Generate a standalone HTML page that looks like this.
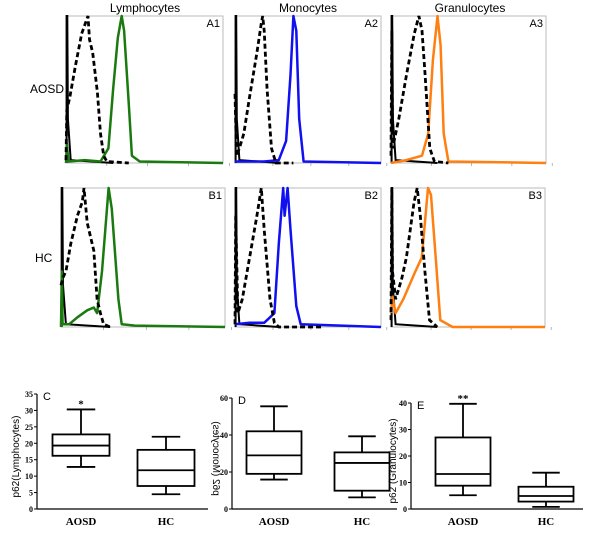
<!DOCTYPE html>
<html><head><meta charset="utf-8"><style>
body{margin:0;background:#fff;width:600px;height:544px;overflow:hidden}
svg{display:block}
text{font-family:"Liberation Sans",sans-serif}
.b{font-family:"Liberation Serif",serif;font-weight:bold}
</style></head><body>
<svg id="s" width="600" height="544"></svg>
<script>
// ---------- histogram data (x,y normalized to panel) ----------
const panelNames=['A1','A2','A3','B1','B2','B3'];
const colTitles=['Lymphocytes','Monocytes','Granulocytes'];
const rowTitles=['AOSD','HC'];
const seriesColors=['#1a7a10','#1010f0','#ff7f10','#1a7a10','#1010f0','#ff7f10'];
const isoSpike=[[0.004,0],[0.004,1],[0.008,1],[0.012,0.3],[0.03,0.02],[0.3,0]];
const dashedA1=[[0,0.02],[0.005,0.36],[0.025,0.45],[0.06,0.66],[0.1,0.88],[0.13,0.97],[0.14,1],[0.15,0.84],[0.17,0.75],[0.2,0.48],[0.22,0.2],[0.24,0.05],[0.26,0.01],[0.4,0]];
const colorA1=[[0,0],[0.005,0.13],[0.015,0.01],[0.12,0.02],[0.22,0.01],[0.27,0.1],[0.3,0.5],[0.33,0.85],[0.355,1],[0.37,0.9],[0.4,0.4],[0.42,0.05],[0.47,0.01],[1,0]];
const dashedA2=[[0,0.47],[0.01,0.05],[0.03,0.1],[0.06,0.2],[0.1,0.45],[0.15,0.75],[0.18,0.95],[0.19,1],[0.2,0.9],[0.22,0.5],[0.25,0.1],[0.28,0],[0.4,0]];
const colorA2=[[0,0.01],[0.2,0.01],[0.3,0.02],[0.35,0.15],[0.38,0.6],[0.4,1],[0.42,0.9],[0.44,0.3],[0.47,0.01],[1,0]];
const dashedA3=[[0,0.05],[0.005,0.9],[0.01,0.1],[0.05,0.3],[0.1,0.6],[0.15,0.88],[0.18,1],[0.2,0.9],[0.22,0.6],[0.25,0.1],[0.28,0.01],[0.37,0]];
const colorA3=[[0,0],[0.1,0.02],[0.2,0.05],[0.24,0.2],[0.27,0.7],[0.3,1],[0.32,0.8],[0.34,0.2],[0.37,0.01],[1,0]];
const dashedB1=[[0,0.3],[0.01,0.35],[0.03,0.4],[0.06,0.6],[0.1,0.8],[0.13,0.9],[0.14,1],[0.16,0.75],[0.2,0.55],[0.22,0.2],[0.24,0.1],[0.26,0.02],[0.3,0]];
const colorB1=[[0,0],[0.005,0.4],[0.01,0.02],[0.05,0.02],[0.1,0.07],[0.16,0.12],[0.2,0.14],[0.22,0.1],[0.25,0.4],[0.27,0.7],[0.29,1],[0.31,0.85],[0.35,0.2],[0.37,0.02],[0.45,0.01],[1,0]];
const dashedB2=[[0,0.02],[0.005,0.8],[0.02,0.1],[0.05,0.2],[0.1,0.5],[0.15,0.8],[0.18,1],[0.2,0.7],[0.24,0.2],[0.27,0.03],[0.3,0],[0.6,0]];
const colorB2=[[0,0.02],[0.1,0.03],[0.2,0.03],[0.27,0.1],[0.3,0.6],[0.33,1],[0.34,0.8],[0.36,1],[0.38,0.7],[0.42,0.15],[0.45,0.02],[1,0]];
const dashedB3=[[0,0.05],[0.005,1],[0.01,0.4],[0.03,0.2],[0.07,0.35],[0.1,0.5],[0.15,0.9],[0.17,1],[0.19,0.8],[0.22,0.4],[0.25,0.05],[0.3,0]];
const colorB3=[[0,0.1],[0.01,0.22],[0.03,0.1],[0.08,0.2],[0.15,0.38],[0.2,0.5],[0.24,1],[0.26,0.95],[0.29,0.5],[0.32,0.05],[0.4,0],[1,0]];
const dashedSeries=[dashedA1,dashedA2,dashedA3,dashedB1,dashedB2,dashedB3];
const colorSeries=[colorA1,colorA2,colorA3,colorB1,colorB2,colorB3];
// ---------- box plot data ----------
const boxGroups=['AOSD','HC'];
const lymphAOSD=[12.8,16.2,19.3,22.7,30.3];
const lymphHC=[4.5,7,11.8,18,22];
const monoAOSD=[15.9,19,29,42,55.5];
const monoHC=[6.3,9.9,24.9,30.6,39.3];
const granAOSD=[5.2,8.8,13.2,27,39.7];
const granHC=[0.8,2.8,4.9,8.4,13.7];
const lymphTicks=[0,5,10,15,20,25,30,35];
const monoTicks=[0,20,40,60];
const granTicks=[0,10,20,30,40];

const S=document.getElementById('s'),NS='http://www.w3.org/2000/svg';
function mk(tag,a,parent){const e=document.createElementNS(NS,tag);for(const k in a)e.setAttribute(k,a[k]);(parent||S).appendChild(e);return e;}

const frames=[[66,16,157,147],[235,16,146,147],[391,16,155,147],[61,188,164,139],[235,188,146,139],[391,188,154,139]];
panelNames.forEach((nm,i)=>{
  const [x,y,w,h]=frames[i];
  const g=mk('g',{});
  
  
  const r=mk('rect',{x,y,width:w,height:h,fill:'none',stroke:'#bbb','stroke-width':1},g);
  
  for(let k=1;k<8;k++){mk('line',{x1:x,x2:x+2,y1:y+h*k/8,y2:y+h*k/8,stroke:'#888','stroke-width':0.6},g);}
  for(let k=1;k<5;k++){mk('line',{x1:x+w*k*0.26,x2:x+w*k*0.26,y1:y+h,y2:y+h+3,stroke:'#888','stroke-width':0.6},g);}
  const sx=v=>x+v*w, sy=v=>y+h-v*h;
  const pth=pts=>pts.map((p,j)=>(j?'L':'M')+sx(p[0]).toFixed(1)+','+sy(p[1]).toFixed(1)).join('');
  const iso=mk('path',{d:pth(isoSpike),fill:'none',stroke:'#000','stroke-width':2},g);
  
  const c=mk('path',{d:pth(colorSeries[i]),fill:'none',stroke:seriesColors[i],'stroke-width':2.5,'stroke-linejoin':'round'},g);
  
  const d=mk('path',{d:pth(dashedSeries[i]),fill:'none',stroke:'#000','stroke-width':2.8,'stroke-dasharray':'5,3'},g);
  
  const t=mk('text',{x:x+w-3,y:y+11,'text-anchor':'end','font-size':11},g);t.textContent=nm;
  
});
colTitles.forEach((t,i)=>{const e=mk('text',{x:[145,308,470][i],y:12,'text-anchor':'middle','font-size':12});e.textContent=t;
  });
rowTitles.forEach((t,i)=>{const e=mk('text',{x:[30,35][i],y:[93,262][i],'font-size':12});e.textContent=t;
  });

function boxPlot(cfg){
  const {ax,y0,yTop,vmax,xEnd,centers,bw,data,ticks,label,title,tx,mirror,stars}=cfg;
  const g=mk('g',{});
  
  
  const sy=v=>y0-(v/vmax)*(y0-yTop);
  mk('line',{x1:ax,x2:ax,y1:y0,y2:sy(ticks[ticks.length-1]),stroke:'#000','stroke-width':1.2},g);
  mk('line',{x1:ax,x2:xEnd,y1:y0,y2:y0,stroke:'#000','stroke-width':1.2},g);
  ticks.forEach(t=>{mk('line',{x1:ax-3,x2:ax,y1:sy(t),y2:sy(t),stroke:'#000','stroke-width':1},g);
    const e=mk('text',{x:ax-4,y:sy(t)+3,'text-anchor':'end','font-size':8,class:'b'},g);e.textContent=t;
    });
  data.forEach((d,i)=>{const cx=centers[i];
    const b=mk('g',{},g);
    mk('line',{x1:cx,x2:cx,y1:sy(d[0]),y2:sy(d[1]),stroke:'#000','stroke-width':1.8},b);
    mk('line',{x1:cx,x2:cx,y1:sy(d[3]),y2:sy(d[4]),stroke:'#000','stroke-width':1.8},b);
    mk('line',{x1:cx-bw/4,x2:cx+bw/4,y1:sy(d[0]),y2:sy(d[0]),stroke:'#000','stroke-width':1.8},b);
    mk('line',{x1:cx-bw/4,x2:cx+bw/4,y1:sy(d[4]),y2:sy(d[4]),stroke:'#000','stroke-width':1.8},b);
    mk('rect',{x:cx-bw/2,y:sy(d[3]),width:bw,height:sy(d[1])-sy(d[3]),fill:'none',stroke:'#000','stroke-width':1.8},b);
    mk('line',{x1:cx-bw/2,x2:cx+bw/2,y1:sy(d[2]),y2:sy(d[2]),stroke:'#000','stroke-width':1.8},b);
    const e=mk('text',{x:cx,y:y0+16,'text-anchor':'middle','font-size':11,class:'b'},g);e.textContent=boxGroups[i];
    
    if(i==0&&stars){const s=mk('text',{x:cx,y:sy(d[4])-2,'text-anchor':'middle','font-size':11,class:'b'},g);s.textContent=stars;
      }
  });
  const L=mk('text',{x:ax+6,y:yTop+6,'font-size':11},g);L.textContent=label;
  
  const cy=(y0+yTop)/2+5;
  const T=mk('text',{x:0,y:0,'text-anchor':'middle','font-size':10,transform:`translate(${tx},${cy}) rotate(-90)`+(mirror?' scale(1,-1)':'')},g);
  T.textContent=title;
}
boxPlot({ax:37,y0:509,yTop:394,vmax:35,xEnd:208,centers:[81,166],bw:57,data:[lymphAOSD,lymphHC],ticks:lymphTicks,label:'C',title:'p62(Lymphocytes)',tx:19,stars:'*'});
boxPlot({ax:232,y0:509,yTop:398,vmax:60,xEnd:397,centers:[274,362],bw:55,data:[monoAOSD,monoHC],ticks:monoTicks,label:'D',title:'p62 (Monocytes)',tx:213,mirror:true});
boxPlot({ax:411,y0:509,yTop:403,vmax:40,xEnd:583,centers:[463,546],bw:55,data:[granAOSD,granHC],ticks:granTicks,label:'E',title:'p62 (Granulocytes)',tx:396,stars:'**'});
</script>
</body></html>
